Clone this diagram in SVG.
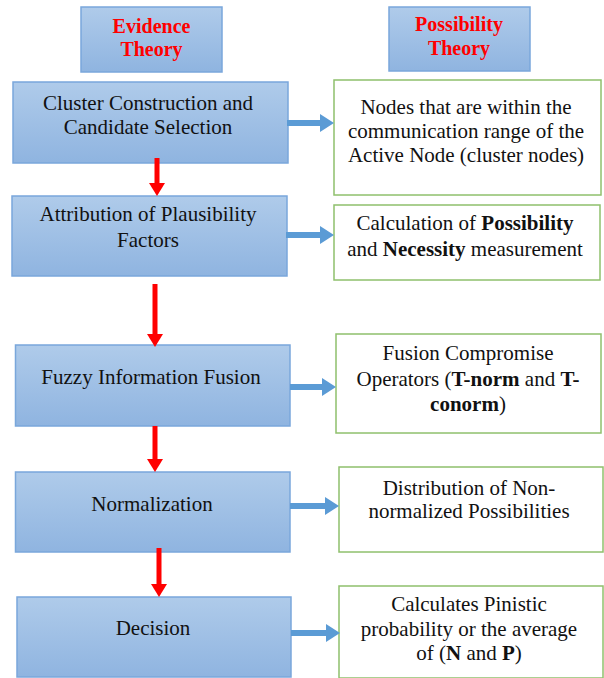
<svg xmlns="http://www.w3.org/2000/svg" width="604" height="678" viewBox="0 0 604 678">
<defs>
<linearGradient id="bg" x1="0" y1="0" x2="0" y2="1">
<stop offset="0" stop-color="#afcbea"/>
<stop offset="1" stop-color="#8fb4e0"/>
</linearGradient>
<marker id="redHead" markerUnits="userSpaceOnUse" markerWidth="14" markerHeight="16" refX="0" refY="8" orient="auto">
<path d="M0,0 L13,8 L0,16 Z" fill="#ff0000"/>
</marker>
<marker id="blueHead" markerUnits="userSpaceOnUse" markerWidth="15" markerHeight="18" refX="0" refY="9" orient="auto">
<path d="M0,0 L14,9 L0,18 Z" fill="#5b9bd5"/>
</marker>
<style>
.blue{fill:url(#bg);stroke:#7aa7db;stroke-width:1.5}
.green{fill:#ffffff;stroke:#8fc06c;stroke-width:1.5}
.t{font-family:"Liberation Serif","Times New Roman",serif;font-size:21px;fill:#111111;text-anchor:middle}
.h{font-family:"Liberation Serif","Times New Roman",serif;font-size:20px;font-weight:bold;fill:#ff0000;text-anchor:middle}
.b{font-weight:bold}
.red{stroke:#ff0000;stroke-width:5;fill:none;marker-end:url(#redHead)}
.ba{stroke:#5b9bd5;stroke-width:6;fill:none;marker-end:url(#blueHead)}
</style>
</defs>
<rect width="604" height="678" fill="#ffffff"/>
<g id="hdr-evidence">
<rect class="blue" x="81" y="7" width="141" height="65"/>
<text class="h" x="151.5" y="33">Evidence</text>
<text class="h" x="151.5" y="56">Theory</text>
</g>
<g id="hdr-possibility">
<rect class="blue" x="389" y="7" width="141" height="64"/>
<text class="h" x="459" y="31">Possibility</text>
<text class="h" x="459" y="55">Theory</text>
</g>
<g id="e1">
<rect class="blue" x="13" y="82" width="275" height="81"/>
<text class="t" x="148" y="110">Cluster Construction and</text>
<text class="t" x="148" y="134">Candidate Selection</text>
</g>
<g id="e2">
<rect class="blue" x="12" y="196" width="275" height="80"/>
<text class="t" x="148" y="221">Attribution of Plausibility</text>
<text class="t" x="148" y="247">Factors</text>
</g>
<g id="e3">
<rect class="blue" x="15.5" y="345" width="274.5" height="81"/>
<text class="t" x="151" y="384">Fuzzy Information Fusion</text>
</g>
<g id="e4">
<rect class="blue" x="15.5" y="472" width="274.5" height="80"/>
<text class="t" x="152" y="511">Normalization</text>
</g>
<g id="e5">
<rect class="blue" x="17" y="597" width="274" height="80"/>
<text class="t" x="153" y="635">Decision</text>
</g>
<g id="p1">
<rect class="green" x="334" y="80" width="267" height="115"/>
<text class="t" x="466" y="114">Nodes that are within the</text>
<text class="t" x="466" y="138">communication range of the</text>
<text class="t" x="466" y="162">Active Node (cluster nodes)</text>
</g>
<g id="p2">
<rect class="green" x="334" y="205" width="266" height="75"/>
<text class="t" x="465" y="230">Calculation of <tspan class="b">Possibility</tspan></text>
<text class="t" x="465" y="256">and <tspan class="b">Necessity</tspan> measurement</text>
</g>
<g id="p3">
<rect class="green" x="336" y="334" width="265" height="99"/>
<text class="t" x="468" y="360">Fusion Compromise</text>
<text class="t" x="468" y="386">Operators (<tspan class="b">T-norm</tspan> and <tspan class="b">T-</tspan></text>
<text class="t" x="468" y="411"><tspan class="b">conorm</tspan>)</text>
</g>
<g id="p4">
<rect class="green" x="339" y="467" width="264" height="85"/>
<text class="t" x="469" y="495">Distribution of Non-</text>
<text class="t" x="469" y="518">normalized Possibilities</text>
</g>
<g id="p5">
<rect class="green" x="339" y="586" width="264" height="92"/>
<text class="t" x="469" y="611">Calculates Pinistic</text>
<text class="t" x="469" y="636">probability or the average</text>
<text class="t" x="469" y="660">of (<tspan class="b">N</tspan> and <tspan class="b">P</tspan>)</text>
</g>
<g id="connectors">
<line class="red" x1="157" y1="158" x2="157" y2="183"/>
<line class="red" x1="155" y1="284" x2="155" y2="334"/>
<line class="red" x1="155" y1="426" x2="155" y2="459"/>
<line class="red" x1="159" y1="548" x2="159" y2="584"/>
<line class="ba" x1="287" y1="123" x2="320" y2="123"/>
<line class="ba" x1="286" y1="235" x2="320" y2="235"/>
<line class="ba" x1="290" y1="387" x2="322" y2="387"/>
<line class="ba" x1="290" y1="506" x2="325" y2="506"/>
<line class="ba" x1="291" y1="633" x2="326" y2="633"/>
</g>
</svg>
